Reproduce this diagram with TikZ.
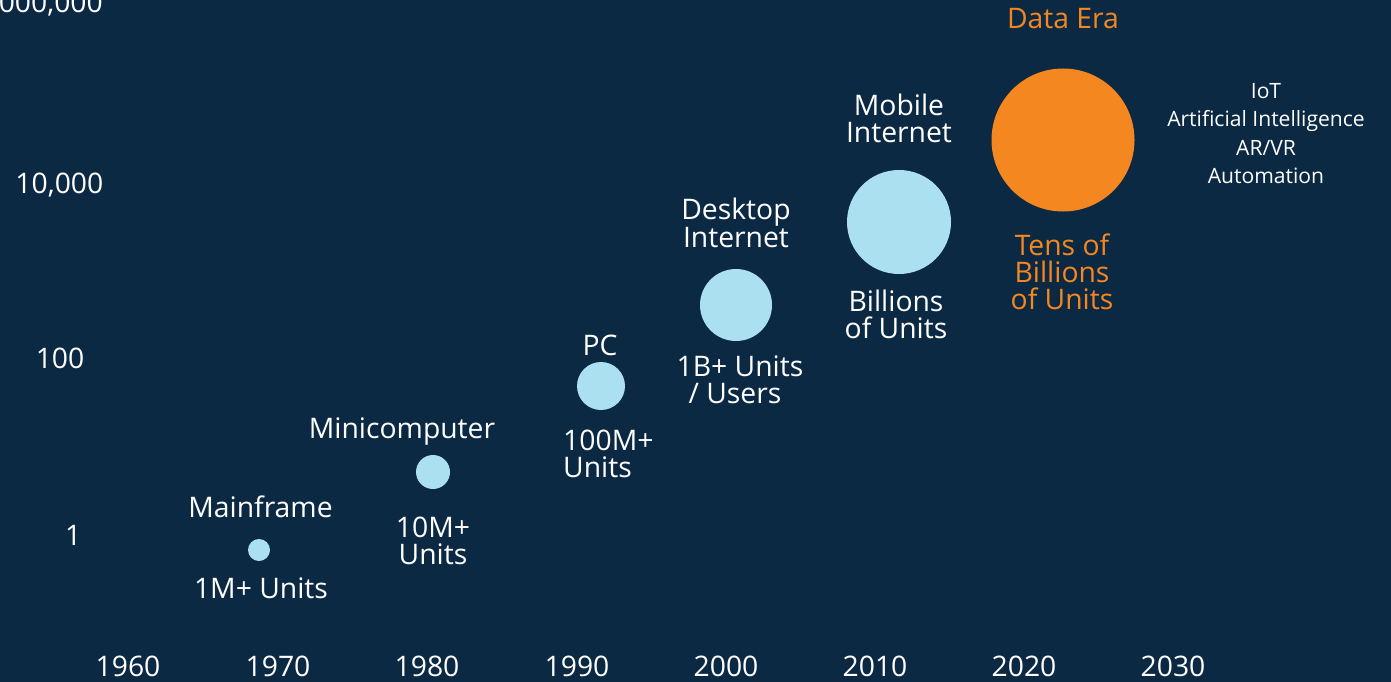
\documentclass[tikz,border=0pt]{standalone}
\usepackage{fontspec}
\setmainfont{Open Sans}
\definecolor{bg}{HTML}{0C2944}
\definecolor{lb}{HTML}{ABE0F0}
\definecolor{og}{HTML}{F58720}
\begin{document}
\begin{tikzpicture}[x=1pt,y=-1pt,
  lab/.style={text=white,font=\fontsize{28.3}{27}\selectfont,align=center,inner sep=0pt},
  olab/.style={lab,text=og},
  axl/.style={lab,anchor=east},
  yr/.style={lab},
  small/.style={text=white,font=\fontsize{21.1}{28.3}\selectfont,align=center,inner sep=0pt},
  dot/.style={circle,fill=lb,inner sep=0pt,minimum size=#1},
  odot/.style={circle,fill=og,inner sep=0pt,minimum size=#1},
]
\fill[bg] (0,0) rectangle (1391,682);
\useasboundingbox (0,0) rectangle (1391,682);
% y axis labels
\node[axl] (y4) at (103,4) {1,000,000};
\node[axl] (y3) at (103.5,185.5) {10,000};
\node[axl] (y2) at (84.5,358) {100};
\node[axl] (y1) at (81.5,535) {1};
% x axis labels
\node[yr] (x1) at (128,666) {1960};
\node[yr] (x2) at (278,666) {1970};
\node[yr] (x3) at (427,666) {1980};
\node[yr] (x4) at (577,666) {1990};
\node[yr] (x5) at (726,666) {2000};
\node[yr] (x6) at (875,666) {2010};
\node[yr] (x7) at (1024,666) {2020};
\node[yr] (x8) at (1173,666) {2030};
% circles
\node[dot=22pt] (c1) at (259,550) {};
\node[dot=34pt] (c2) at (433,472) {};
\node[dot=48pt] (c3) at (601,386) {};
\node[dot=72pt] (c4) at (736,305) {};
\node[dot=104pt] (c5) at (899,222) {};
\node[odot=143pt] (c6) at (1063,140) {};
% labels
\node[lab] (l1a) at (260.5,507) {Mainframe};
\node[lab] (l1b) at (261,588) {1M+ Units};
\node[lab] (l2a) at (402,432) {Minicomputer};
\node[lab] (l2b) at (433,541) {10M+\\Units};
\node[lab] (l3a) at (600,345) {PC};
\node[lab,align=left,anchor=west] (l3b) at (563,453.5) {100M+\\Units};
\node[lab] (l4a) at (736,223) {Desktop\\Internet};
\node[lab] (l4b) at (740,379.5) {1B+ Units\\/ Users\hspace*{10pt}};
\node[lab] (l5a) at (899,118.5) {Mobile\\Internet};
\node[lab] (l5b) at (896,314.5) {Billions\\of Units};
\node[olab] (l6a) at (1063,19) {Data Era};
\node[olab] (l6b) at (1062,272) {Tens of\\Billions\\of Units};
\node[small] (l6c) at (1266,133.5) {IoT\\Artificial Intelligence\\AR/VR\\Automation};
\end{tikzpicture}
\end{document}
